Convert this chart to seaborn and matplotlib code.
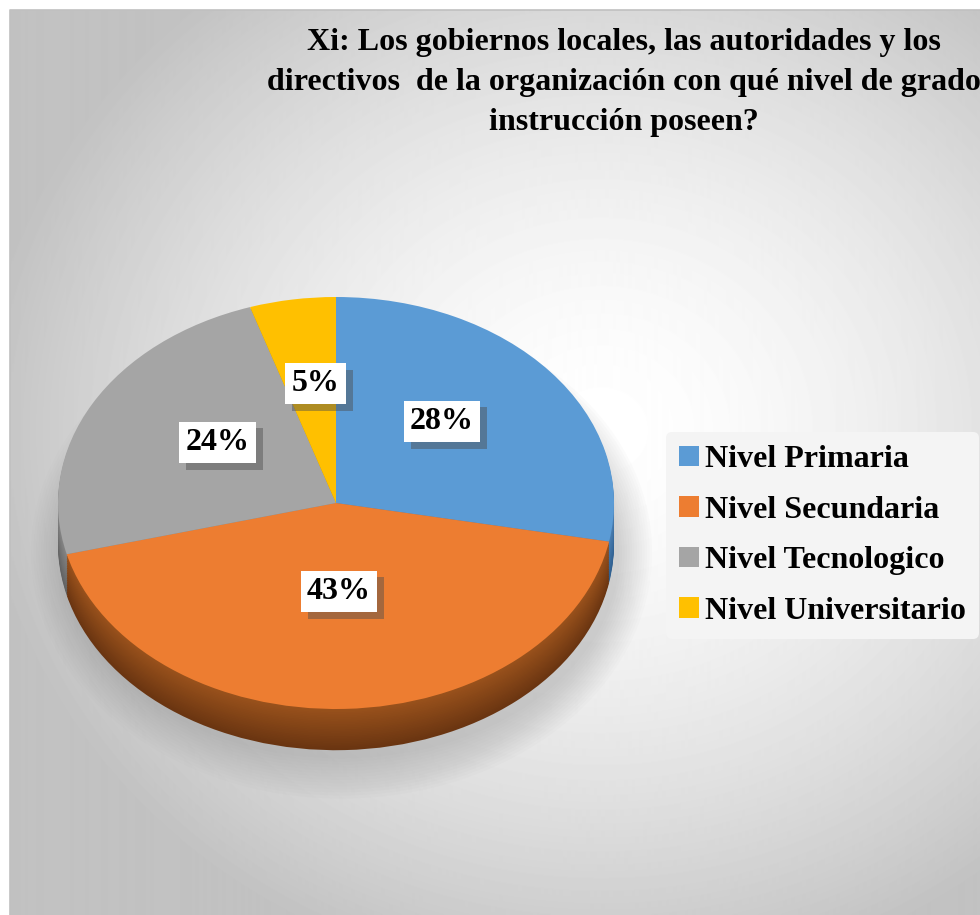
import numpy as np
import matplotlib
matplotlib.use("Agg")
import matplotlib.pyplot as plt
import matplotlib.patheffects as pe
from matplotlib.patches import Patch, Ellipse
import seaborn as sns

# data
categories = ["Nivel Primaria", "Nivel Secundaria", "Nivel Tecnologico", "Nivel Universitario"]
shares = [28, 43, 24, 5]
title = ("Xi: Los gobiernos locales, las autoridades y los\n"
         "directivos  de la organización con qué nivel de grado\n"
         "instrucción poseen?")

colors = sns.color_palette(["#5B9BD5", "#ED7D31", "#A5A5A5", "#FFC000"])
side_dark = ["#2f5f8f", "#6a3511", "#626262", "#9a7400"]
side_light = ["#4a7fb3", "#9a521c", "#858585", "#c79800"]
# how far from the centre each percentage label sits (fraction of radius)
label_dist = [0.55, 0.38, 0.54, 0.52]

sns.set_theme(style="white")
plt.rcParams["font.family"] = ["Liberation Serif", "DejaVu Serif"]
plt.rcParams["text.color"] = "black"

W, H = 980, 915
fig = plt.figure(figsize=(W / 100, H / 100), dpi=100)

# radial gradient background
bg = fig.add_axes([0, 0, 1, 1])
yy, xx = np.mgrid[10:H, 10:W]
r = np.sqrt(((xx - 600) / 620.0) ** 2 + ((yy - 430) / 560.0) ** 2)
grad = 1.0 - 0.24 * np.clip(r, 0, 1) ** 1.6
bg.imshow(grad, extent=[10, W, H, 10], cmap="gray", vmin=0, vmax=1, aspect="auto")
bg.plot([10, 10, W], [H, 10, 10], color="#c0c0c0", lw=1.2)
bg.set_xlim(0, W)
bg.set_ylim(H, 0)
bg.axis("off")

# pie axes: x in [-1,1] -> px 58..614, one y unit = 206 px
cx, cy, rx, ry = 336, 503, 278, 206
ylo, yhi = -1.35, 1.1
ax = fig.add_axes([(cx - rx) / W, 1 - (cy - ylo * ry) / H,
                   2 * rx / W, (yhi - ylo) * ry / H])
ax.patch.set_alpha(0)

depth = 0.2
# soft shadow under the pie
for k in range(14):
    ax.add_patch(Ellipse((0.02, -depth - 0.04), 2.0 + 0.018 * k, 2.0 + 0.03 * k,
                         facecolor="#7a7a7a", edgecolor="none", alpha=0.022,
                         zorder=0, clip_on=False))

# extruded side, stacked copies shifted downwards
steps = 24
for i in range(steps, 0, -1):
    t = i / steps
    cols = [tuple(np.array(matplotlib.colors.to_rgb(d)) * t + np.array(matplotlib.colors.to_rgb(l)) * (1 - t))
            for d, l in zip(side_dark, side_light)]
    ax.pie(shares, colors=cols, startangle=90, counterclock=False, center=(0, -depth * t),
           radius=1, wedgeprops=dict(linewidth=0))

wedges, _, autotexts = ax.pie(shares, colors=colors, startangle=90, counterclock=False,
                              radius=1, autopct="%d%%", wedgeprops=dict(linewidth=0))
for w, t, d in zip(wedges, autotexts, label_dist):
    ang = np.deg2rad((w.theta1 + w.theta2) / 2)
    t.set_position((0.9 * d * np.cos(ang), 1.13 * d * np.sin(ang)))
    t.set_fontsize(23)
    t.set_fontweight("bold")
    t.set_color("black")
    t.set_bbox(dict(facecolor="white", edgecolor="none", pad=4.5))
    t.get_bbox_patch().set_path_effects([pe.withSimplePatchShadow(offset=(5, -5), alpha=0.45)])

ax.set_aspect("auto")
ax.set_xlim(-1, 1)
ax.set_ylim(ylo, yhi)
ax.axis("off")

fig.text(624 / W, 1 - 28 / H, title, ha="center", va="top", fontsize=23,
         fontweight="bold", linespacing=1.5, color="black")

handles = [Patch(facecolor=c, edgecolor="none") for c in colors]
leg = fig.legend(handles, categories, loc="upper left",
                 bbox_to_anchor=(666 / W, 1 - 432 / H), frameon=True,
                 prop=dict(size=23, weight="bold"), handlelength=0.6, handleheight=0.6,
                 handletextpad=0.2, labelspacing=0.67, borderpad=0.42, borderaxespad=0,
                 labelcolor="black")
leg.get_frame().set_facecolor("#f4f4f4")
leg.get_frame().set_edgecolor("none")
leg.get_frame().set_alpha(1)

fig.savefig("out.png", dpi=100)
